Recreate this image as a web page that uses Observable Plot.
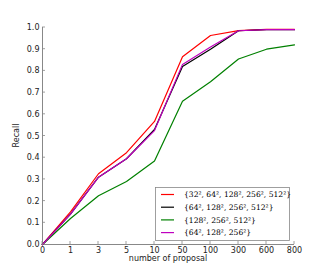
<!DOCTYPE html>
<html><head><meta charset="utf-8">
<script src="https://cdn.jsdelivr.net/npm/d3@7"></script>
<script src="https://cdn.jsdelivr.net/npm/@observablehq/plot@0.6"></script>
<style>body{margin:0;background:#fff}svg{display:block}</style>
</head><body><div id="chart"></div>
<script>
const proposals = ["0","1","3","5","10","50","100","300","600","800"];
const yTicks = [0,0.1,0.2,0.3,0.4,0.5,0.6,0.7,0.8,0.9,1.0];
const seriesNames = ["{32², 64², 128², 256², 512²}","{64², 128², 256², 512²}","{128², 256², 512²}","{64², 128², 256²}"];
const seriesColors = ["#ff0000","#000000","#008000","#bf00bf"];
const red     = [0,0.150,0.326,0.423,0.567,0.865,0.963,0.986,0.991,0.991];
const black   = [0,0.140,0.310,0.395,0.530,0.820,0.900,0.985,0.990,0.990];
const green   = [0,0.120,0.225,0.290,0.385,0.660,0.750,0.855,0.900,0.920];
const magenta = [0,0.140,0.310,0.395,0.525,0.830,0.910,0.985,0.990,0.990];
const allSeries = [red, black, green, magenta];

const data = allSeries.flatMap((vals, si) => vals.map((v, i) => ({x: proposals[i], y: v, s: seriesNames[si]})));

const W = 327, H = 272;
const plot = Plot.plot({
  width: W, height: H,
  marginLeft: 41, marginRight: 33, marginTop: 27, marginBottom: 28,
  style: {fontFamily: "DejaVu Sans", fontSize: "8px", color: "#222", background: "#fff"},
  x: {type: "point", domain: proposals, padding: 0, label: null},
  y: {domain: [0, 1], label: null},
  marks: [
    Plot.axisX({ticks: proposals, tickSize: 0, tickPadding: 3, label: null, fontSize: 8}),
    Plot.axisY({ticks: yTicks, tickSize: 0, tickPadding: 2, tickFormat: d3.format(".1f"), label: null, fontSize: 8}),
    Plot.ruleX(["0"], {stroke: "#888", strokeWidth: 1}),
    Plot.ruleY([0], {stroke: "#888", strokeWidth: 1}),
    ...allSeries.map((vals, si) => Plot.line(data.filter(d => d.s === seriesNames[si]), {x: "x", y: "y", stroke: seriesColors[si], strokeWidth: 1.2}))
  ]
});

const svg = d3.select(plot);
const xs = plot.scale("x"), ys = plot.scale("y");
const x0 = xs.apply("0"), y0 = ys.apply(0);
const tk = svg.append("g").attr("stroke", "#888").attr("stroke-width", 0.8);
yTicks.forEach(t => tk.append("line").attr("x1", x0).attr("x2", x0 + 3).attr("y1", ys.apply(t)).attr("y2", ys.apply(t)));
proposals.forEach(p => tk.append("line").attr("x1", xs.apply(p)).attr("x2", xs.apply(p)).attr("y1", y0).attr("y2", y0 - 3));

// axis titles
svg.append("text").attr("x", (x0 + xs.apply("800")) / 2).attr("y", 261)
  .attr("text-anchor", "middle").attr("font-family", "DejaVu Sans").attr("font-size", 8).attr("fill", "#222")
  .text("number of proposal");
svg.append("text").attr("transform", `translate(19,${(ys.apply(0)+ys.apply(1))/2}) rotate(-90)`)
  .attr("text-anchor", "middle").attr("font-family", "DejaVu Sans").attr("font-size", 8).attr("fill", "#222")
  .text("Recall");

// legend
const lg = svg.append("g").attr("text-anchor", "start");
lg.append("rect").attr("x", 155.5).attr("y", 187.5).attr("width", 134).attr("height", 53)
  .attr("fill", "#fff").attr("stroke", "#888").attr("stroke-width", 0.8);
seriesNames.forEach((n, i) => {
  const yy = 194.5 + i * 12.7;
  lg.append("line").attr("x1", 161).attr("x2", 174).attr("y1", yy).attr("y2", yy)
    .attr("stroke", seriesColors[i]).attr("stroke-width", 1.2);
  lg.append("text").attr("x", 184).attr("y", yy).attr("dy", "0.35em").attr("text-anchor", "start")
    .attr("font-family", "DejaVu Serif").attr("font-size", 7.6).attr("fill", "#000").text(n);
});

document.getElementById("chart").appendChild(plot);
</script></body></html>
